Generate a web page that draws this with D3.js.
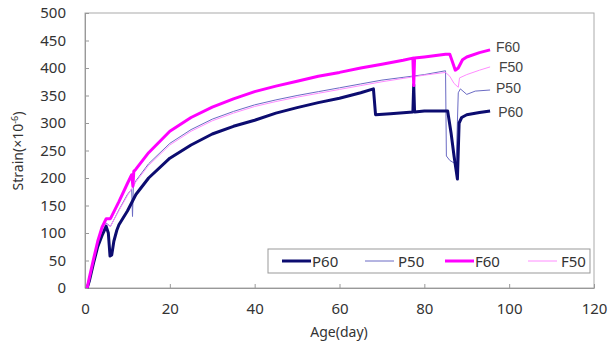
<!DOCTYPE html>
<meta charset="utf-8">
<style>
body { margin: 0; background: #fff; }
.tick text { font: 15px "Noto Sans", "Open Sans", sans-serif; fill: #333; }
.axis path, .axis line { stroke: #999; }
.lbl { font: 14px "Liberation Sans", Arial, sans-serif; fill: #444; }
</style>
<svg width="608" height="351"></svg>
<script src="https://d3js.org/d3.v7.min.js"></script>
<script>

// values: [day, strain]
var p60 = [[0.5,0],[1,12],[2,45],[3,75],[4,95],[5,112],[5.5,100],[5.9,58],[6.3,60],[6.8,85],[7.5,105],[8,115],[10,140],[12,170],[15,200],
  [20,236],[25,260],[30,280],[35,294],[40,305],[45,318],[50,328],[55,337],[60,345],[65,355],[68,362],[68.5,315],[72,317],
  [77.3,320],[77.5,370],[77.7,320],[80,322],[85.5,322],[86.3,282],[87,240],[87.8,198],[88.2,300],[88.8,310],[90,315],[93,319],[95.5,322]];
var p50 = [[0.5,0],[1,15],[2,48],[3,78],[4,100],[5,118],[6,112],[8,142],[10,170],[11,180],[11.2,130],[11.4,185],[12,195],[15,226],
  [20,263],[25,288],[30,307],[35,321],[40,333],[45,342],[50,350],[55,357],[60,364],[65,371],[70,378],[75,383],[80,388],
  [85,395],[85.2,240],[86,232],[87.5,225],[88,355],[88.5,362],[90,352],[92,358],[95.5,360]];
var f60 = [[0.5,0],[1,18],[2,52],[3,85],[4,110],[5,126],[6,126],[8,157],[10,190],[11,206],[11.3,185],[11.5,212],[12,216],[15,246],
  [20,285],[25,310],[30,329],[35,344],[40,357],[45,367],[50,376],[55,385],[60,392],[65,400],[70,407],[75,414],[77.3,418],
  [77.5,368],[77.7,418],[80,420],[85,425],[86,425],[86.6,412],[87.3,396],[88,400],[89,415],[90,420],[93,428],[95.5,433]];
var f50 = [[0.5,0],[1,15],[2,47],[3,77],[4,99],[5,116],[6,112],[8,141],[10,168],[12,193],[15,223],
  [20,260],[25,285],[30,304],[35,318],[40,330],[45,339],[50,347],[55,354],[60,361],[65,368],[70,375],[75,381],[80,387],
  [85,392],[86,385],[87,372],[88,365],[88.3,382],[90,388],[93,396],[95.5,402]];

var seriesNames = ["P60", "P50", "F60", "F50"];
var seriesData = [p60, p50, f60, f50];
var colors = ["#0c0c70", "#6b6bc4", "#ff00ff", "#ff8cff"];
var widths = [3, 1, 3, 1];
var endLabels = ["P60", "P50", "F60", "F50"];
var endLabelVals = [320, 364, 438, 402];
var endLabelDays = [97.4, 96.9, 96.9, 97.6];

var xTicks = [0, 20, 40, 60, 80, 100, 120];
var yTicks = d3.range(0, 501, 50);

var svg = d3.select("svg");
var pLeft = 85, pRight = 594, pTop = 13, pBottom = 288;

var x = d3.scaleLinear().domain([0, 120]).range([pLeft, pRight]);
var y = d3.scaleLinear().domain([0, 500]).range([pBottom, pTop]);

// plot frame
svg.append("rect")
  .attr("x", pLeft).attr("y", pTop)
  .attr("width", pRight - pLeft).attr("height", pBottom - pTop)
  .attr("fill", "none").attr("stroke", "#aaa");

svg.append("g").attr("class", "axis")
  .attr("transform", "translate(0," + pBottom + ")")
  .call(d3.axisBottom(x).tickValues(xTicks).tickSizeInner(-4).tickSizeOuter(0).tickPadding(15))
  .call(g => g.select(".domain").attr("stroke", "#999"));

svg.append("g").attr("class", "axis")
  .attr("transform", "translate(" + pLeft + ",0)")
  .call(d3.axisLeft(y).tickValues(yTicks).tickSizeInner(-4).tickSizeOuter(0).tickPadding(19))
  .call(g => g.select(".domain").attr("stroke", "#999"));

var line = d3.line().x(d => x(d[0])).y(d => y(d[1]));

// thin lines under thick ones, like the original
[1, 3, 0, 2].forEach(function(i) {
  svg.append("path")
    .datum(seriesData[i])
    .attr("d", line)
    .attr("fill", "none")
    .attr("stroke", colors[i])
    .attr("stroke-width", widths[i])
    .attr("stroke-linejoin", "round");
});

// labels at line ends
endLabels.forEach(function(t, i) {
  svg.append("text").attr("class", "lbl")
    .attr("x", x(endLabelDays[i])).attr("y", y(endLabelVals[i]) + 5)
    .text(t);
});

// axis titles
svg.append("text")
  .attr("transform", "translate(23,151) rotate(-90)")
  .attr("text-anchor", "middle")
  .style("font", "14px 'Noto Sans', sans-serif").style("fill", "#333")
  .html("Strain(×10<tspan dy='-5' font-size='9'>-6</tspan><tspan dy='5'>)</tspan>");

svg.append("text")
  .attr("x", 339).attr("y", 337)
  .attr("text-anchor", "middle")
  .style("font", "14px 'Noto Sans', sans-serif").style("fill", "#333")
  .text("Age(day)");

// legend
var lg = svg.append("g");
lg.append("rect").attr("x", 268).attr("y", 249).attr("width", 322).attr("height", 24)
  .attr("fill", "#fff").attr("stroke", "#999");
var lgX = [282, 365, 445, 528];
seriesNames.forEach(function(n, i) {
  lg.append("line")
    .attr("x1", lgX[i]).attr("x2", lgX[i] + 29)
    .attr("y1", 261).attr("y2", 261)
    .attr("stroke", colors[i]).attr("stroke-width", widths[i]);
  lg.append("text")
    .attr("x", lgX[i] + (widths[i] > 1 ? 30 : 33)).attr("y", 266.5)
    .style("font", "15px 'Noto Sans', sans-serif").style("fill", "#333")
    .text(n);
});

</script>
